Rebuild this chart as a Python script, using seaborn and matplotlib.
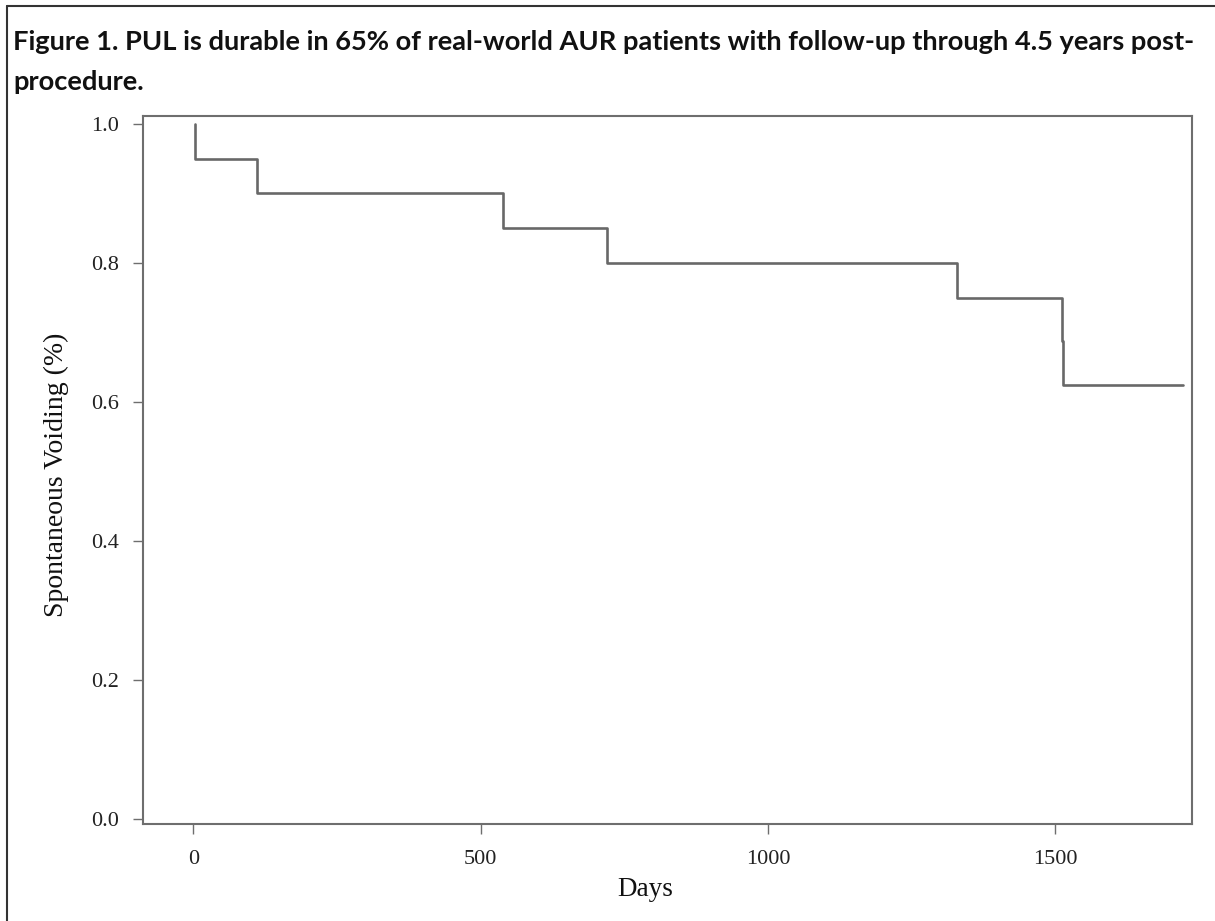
import matplotlib
matplotlib.use("Agg")
import matplotlib.pyplot as plt
import seaborn as sns
import pandas as pd
from matplotlib.lines import Line2D

# Kaplan-Meier steps
event_days = [3, 3, 111, 539, 720, 1329, 1512, 1514, 1722]
survival = [1.0, 0.95, 0.90, 0.85, 0.80, 0.75, 0.6875, 0.625, 0.625]

x_ticks = [0, 500, 1000, 1500]
y_ticks = [0.0, 0.2, 0.4, 0.6, 0.8, 1.0]
y_tick_labels = ["0.0", "0.2", "0.4", "0.6", "0.8", "1.0"]

title_lines = [
    "Figure 1. PUL is durable in 65% of real-world AUR patients with follow-up through 4.5 years post-",
    "procedure.",
]

df = pd.DataFrame({"Days": event_days, "Survival": survival})

sns.set_theme(style="white")
plt.rcParams["font.family"] = ["Liberation Serif", "DejaVu Serif"]

W, H = 1215, 921
fig = plt.figure(figsize=(W / 100, H / 100), dpi=100)

left, right, top, bottom = 143, 1192, 116, 824
ax = fig.add_axes([left / W, 1 - bottom / H, (right - left) / W, (bottom - top) / H])

sns.lineplot(data=df, x="Days", y="Survival", ax=ax, estimator=None, sort=False,
             drawstyle="steps-post", color="#686868", linewidth=1.9)

ax.set_xlim(-87.5, 1738)
ax.set_ylim(-0.0072, 1.0115)
ax.set_xticks(x_ticks)
ax.set_xticklabels([str(t) for t in x_ticks])
ax.set_yticks(y_ticks)
ax.set_yticklabels(y_tick_labels)

for s in ax.spines.values():
    s.set_visible(True)
    s.set_color("#6e6e6e")
    s.set_linewidth(1.5)

ax.tick_params(axis="both", direction="out", length=7.5, width=1.0, color="#6e6e6e",
               labelsize=16, labelcolor="#222222", pad=10)
ax.tick_params(axis="x", bottom=True, pad=11)
ax.tick_params(axis="y", left=True)

ax.set_xlabel("Days", fontsize=19.5, color="#111111", va="center")
ax.xaxis.set_label_coords(0.4786, -0.0932)
ax.set_ylabel("Spontaneous Voiding (%)", fontsize=20, color="#111111", va="center")
ax.yaxis.set_label_coords(-0.083, 0.493)

# two-line caption in a Calibri-like sans
for line, base in zip(title_lines, [50, 90]):
    fig.text(13 / W, 1 - base / H, line, family=["Lato", "DejaVu Sans"], fontsize=19.6,
             weight="bold", color="#111111", va="baseline", ha="left")

# frame lines at top and left edge of the image
fig.add_artist(Line2D([7 / W, 1], [1 - 6 / H, 1 - 6 / H], color="#333333", linewidth=1.5))
fig.add_artist(Line2D([7 / W, 7 / W], [0, 1 - 6 / H], color="#333333", linewidth=1.5))

fig.savefig("out.png", dpi=100)
